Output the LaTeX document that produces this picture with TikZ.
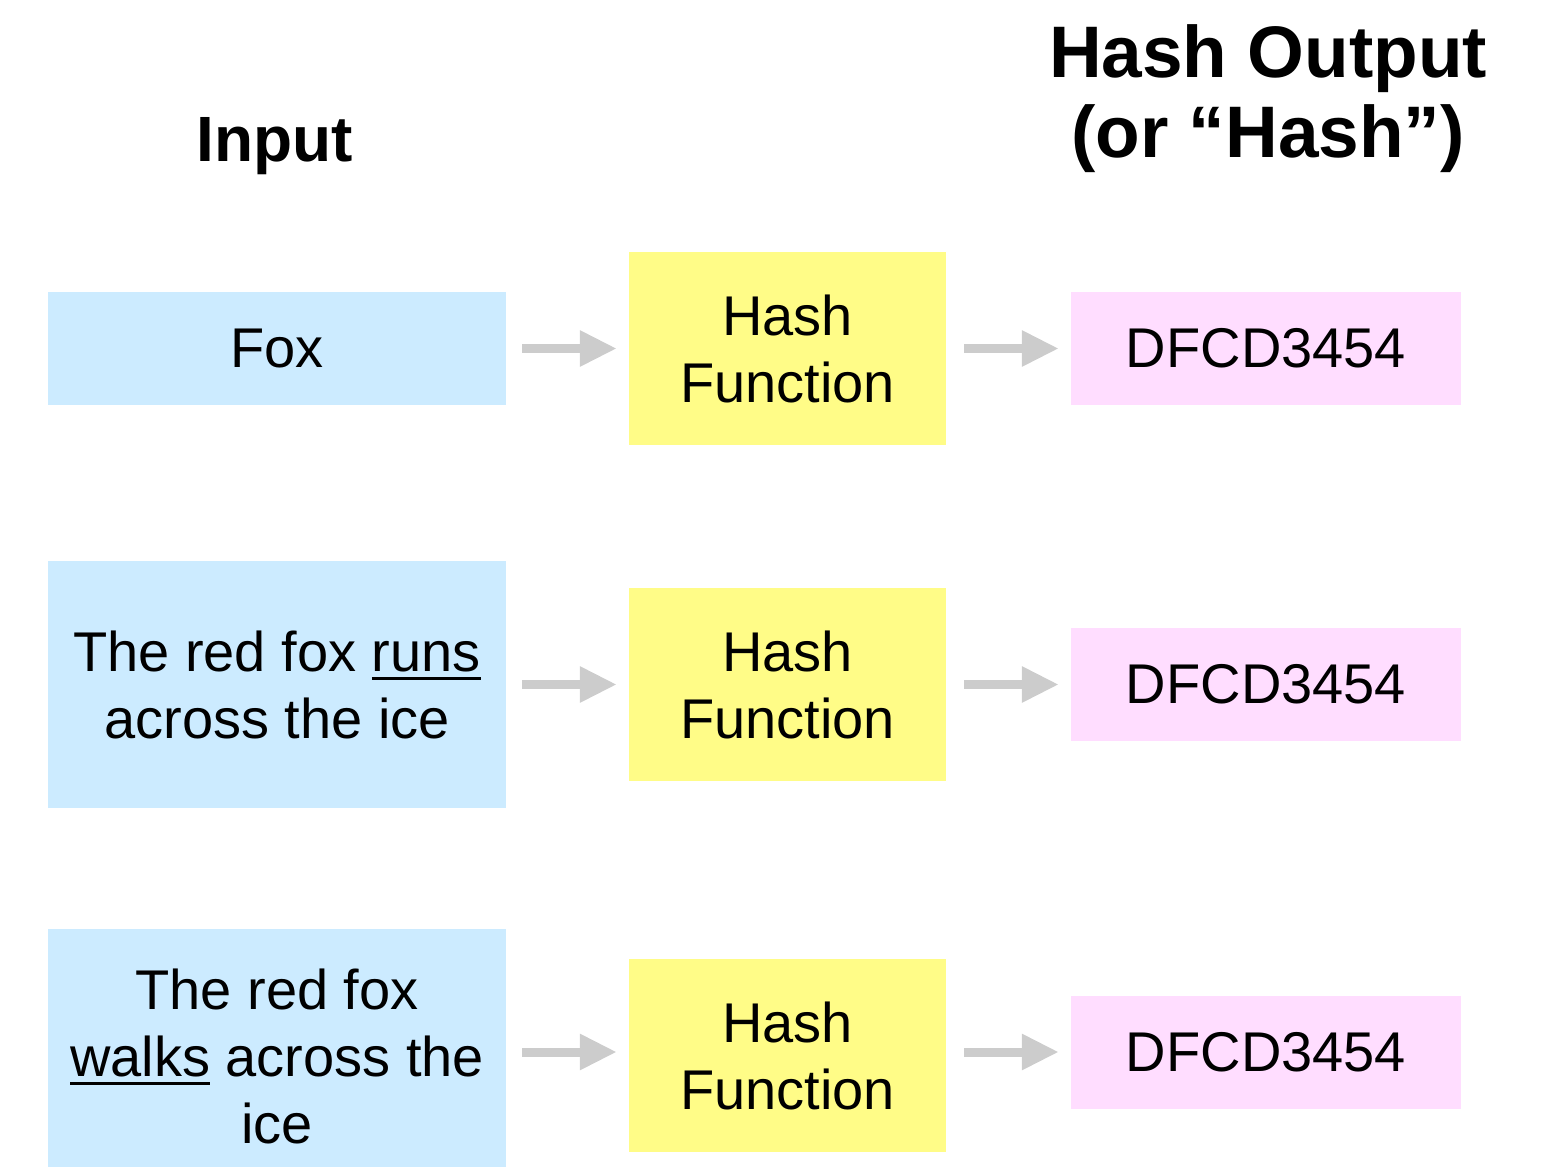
\documentclass[tikz,border=0pt]{standalone}
\usepackage{fontspec}
\setmainfont{Liberation Sans}
\usetikzlibrary{arrows.meta}
\definecolor{inblue}{RGB}{204,235,255}
\definecolor{hashyel}{RGB}{255,252,135}
\definecolor{outpink}{RGB}{255,221,255}
\definecolor{arrgray}{RGB}{204,204,204}
\newcommand\myul[1]{\setbox0\hbox{#1}\rlap{\rule[-9pt]{\wd0}{3pt}}\box0\relax}
\tikzset{
  boxtext/.style={inner sep=0pt, align=center, font=\fontsize{56}{67}\selectfont},
  inbox/.style={boxtext, fill=inblue, minimum width=458pt},
  hashbox/.style={boxtext, fill=hashyel, minimum width=317pt, minimum height=193pt},
  outbox/.style={boxtext, fill=outpink, minimum width=390pt, minimum height=113pt},
  head/.style={inner sep=0pt, align=center, font=\bfseries},
  arr/.style={draw=arrgray, line width=9pt, -{Triangle[length=37pt,width=34pt]}}
}
\begin{document}
\begin{tikzpicture}[x=1pt,y=-1pt]
\useasboundingbox (0,0) rectangle (1551,1167);
% headings
\node[head, font=\bfseries\fontsize{64}{78}\selectfont] (hin) at (275,146) {Input};
\node[head, font=\bfseries\fontsize{73}{80}\selectfont] (hout) at (1268,99) {Hash Output\\(or “Hash”)};
% row 1
\node[inbox, minimum height=113pt] (b1) at (277,348.5) {Fox};
\node[hashbox] (y1) at (787.5,348.5) {Hash\\Function};
\node[outbox] (p1) at (1266,348.5) {DFCD3454};
% row 2
\node[inbox, minimum height=247pt] (b2) at (277,684.5) {The red fox \myul{runs}\\across the ice};
\node[hashbox] (y2) at (787.5,684.5) {Hash\\Function};
\node[outbox] (p2) at (1266,684.5) {DFCD3454};
% row 3
\node[inbox, minimum height=254pt] (b3) at (277,1056) {The red fox\\\myul{walks} across the\\ice};
\node[hashbox] (y3) at (787.5,1055.5) {Hash\\Function};
\node[outbox] (p3) at (1266,1052.5) {DFCD3454};
\coordinate (r3) at (0,1052);
% arrows
\draw[arr, shorten <=16pt, shorten >=12pt] (b1) -- (y1);
\draw[arr, shorten <=18pt, shorten >=12pt] (y1) -- (p1);
\draw[arr, shorten <=16pt, shorten >=12pt] (b2) -- (y2);
\draw[arr, shorten <=18pt, shorten >=12pt] (y2) -- (p2);
\draw[arr, shorten <=16pt, shorten >=12pt] (b3.east |- r3) -- (y3.west |- r3);
\draw[arr, shorten <=18pt, shorten >=12pt] (y3.east |- r3) -- (p3.west |- r3);
\end{tikzpicture}
\end{document}
